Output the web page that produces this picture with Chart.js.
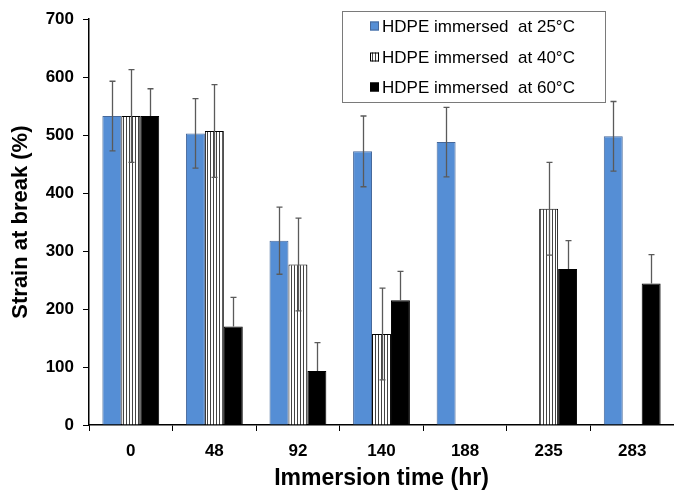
<!DOCTYPE html>
<html><head><meta charset="utf-8">
<script src="https://cdn.jsdelivr.net/npm/chart.js@4.4.1/dist/chart.umd.min.js"></script>
<style>html,body{margin:0;padding:0;background:#fff}#wrap{width:674px;height:490px;position:relative}</style>
</head><body><div id="wrap"><canvas id="c" width="674" height="490"></canvas></div>
<script>
const categories = ['0', '48', '92', '140', '188', '235', '283'];
const seriesNames = ['HDPE immersed  at 25°C', 'HDPE immersed  at 40°C', 'HDPE immersed  at 60°C'];
const strain25 = [533, 503, 318, 472, 488, null, 498];
const strain40 = [533, 507, 277, 157, null, 373, null];
const strain60 = [533, 170, 93, 215, null, 269, 244];
const err25 = [60, 60, 58, 61, 60, null, 60];
const err40 = [80, 80, 80, 79, null, 80, null];
const err60 = [47, 50, 49, 50, null, 49, 50];
const yTicks = [0, 100, 200, 300, 400, 500, 600, 700];

const FONT = '"Liberation Sans", Arial, sans-serif';
const canvas = document.getElementById('c');
const mainCtx = canvas.getContext('2d');
function makeHatch() {
  const p = document.createElement('canvas');
  p.width = 3; p.height = 8;
  const g = p.getContext('2d');
  g.fillStyle = '#ffffff'; g.fillRect(0, 0, 3, 8);
  g.fillStyle = '#444444'; g.fillRect(0, 0, 1, 8);
  return mainCtx.createPattern(p, 'repeat');
}
const hatch = makeHatch();
const errors = [err25, err40, err60];
const plusOnly = [false, false, true];
const fills = ['#558ED5', hatch, '#000000'];
const borders = ['#46689a', '#000000', '#000000'];

const errorBars = {
  id: 'errorBars',
  afterDatasetsDraw(chart) {
    const ctx = chart.ctx, y = chart.scales.y;
    ctx.save();
    ctx.strokeStyle = '#5a5a5a';
    ctx.lineWidth = 1.3;
    chart.data.datasets.forEach((ds, i) => {
      const meta = chart.getDatasetMeta(i);
      meta.data.forEach((bar, j) => {
        const v = ds.data[j], e = errors[i][j];
        if (v == null || e == null) return;
        const x = Math.round(bar.x) + 0.5;
        const yt = y.getPixelForValue(v + e);
        const yb = y.getPixelForValue(plusOnly[i] ? v : v - e);
        ctx.beginPath();
        ctx.moveTo(x, yt); ctx.lineTo(x, yb);
        ctx.moveTo(x - 3, yt); ctx.lineTo(x + 3, yt);
        if (!plusOnly[i]) { ctx.moveTo(x - 3, yb); ctx.lineTo(x + 3, yb); }
        ctx.stroke();
      });
    });
    ctx.restore();
  }
};

const boxLegend = {
  id: 'boxLegend',
  afterDraw(chart) {
    const ctx = chart.ctx;
    ctx.save();
    ctx.fillStyle = '#ffffff';
    ctx.fillRect(342, 11, 263, 91);
    ctx.strokeStyle = '#7a7a7a';
    ctx.lineWidth = 1;
    ctx.strokeRect(342.5, 11.5, 263, 91);
    const rows = [26, 57, 87];
    seriesNames.forEach((name, i) => {
      const cy = rows[i];
      ctx.fillStyle = fills[i];
      ctx.fillRect(370, cy - 4.5, 9, 9);
      ctx.strokeStyle = borders[i];
      ctx.strokeRect(370.5, cy - 4, 8, 8);
      ctx.fillStyle = '#000';
      ctx.font = '17px ' + FONT;
      ctx.textBaseline = 'middle';
      ctx.textAlign = 'left';
      ctx.fillText(name, 382, cy + 1);
    });
    ctx.restore();
  }
};

new Chart(canvas, {
  type: 'bar',
  data: {
    labels: categories,
    datasets: [strain25, strain40, strain60].map((d, i) => ({
      label: seriesNames[i],
      data: d,
      backgroundColor: fills[i],
      borderColor: borders[i],
      borderWidth: 1,
      barPercentage: 1,
      categoryPercentage: 0.68
    }))
  },
  options: {
    responsive: false,
    animation: false,
    devicePixelRatio: 1,
    layout: { padding: { top: 16, right: 0, left: 0, bottom: 0 } },
    plugins: { legend: { display: false }, tooltip: { enabled: false }, title: { display: false } },
    scales: {
      x: {
        grid: { display: true, drawOnChartArea: false, drawTicks: true, tickLength: 6, color: '#000', offset: true },
        border: { display: true, color: '#000', width: 1.5 },
        ticks: { color: '#000', font: { family: FONT, size: 17, weight: 'bold' }, padding: 10 },
        title: { display: true, text: 'Immersion time (hr)', color: '#000', font: { family: FONT, size: 23, weight: 'bold', lineHeight: 1 }, padding: { top: 0, bottom: 0 } },
        afterFit(s) { s.height = 65; }
      },
      y: {
        min: 0, max: 700,
        afterBuildTicks(s) { s.ticks = yTicks.map(v => ({ value: v })); },
        grid: { display: true, drawOnChartArea: false, drawTicks: true, tickLength: 6, color: '#000' },
        border: { display: true, color: '#000', width: 1.5 },
        ticks: { color: '#000', font: { family: FONT, size: 17, weight: 'bold' }, padding: 9 },
        title: { display: true, text: 'Strain at break (%)', color: '#000', font: { family: FONT, size: 22, weight: 'bold', lineHeight: 1 }, padding: { top: 10, bottom: 0 } },
        afterFit(s) { s.width = 89; }
      }
    }
  },
  plugins: [errorBars, boxLegend]
});
</script>
</body></html>
